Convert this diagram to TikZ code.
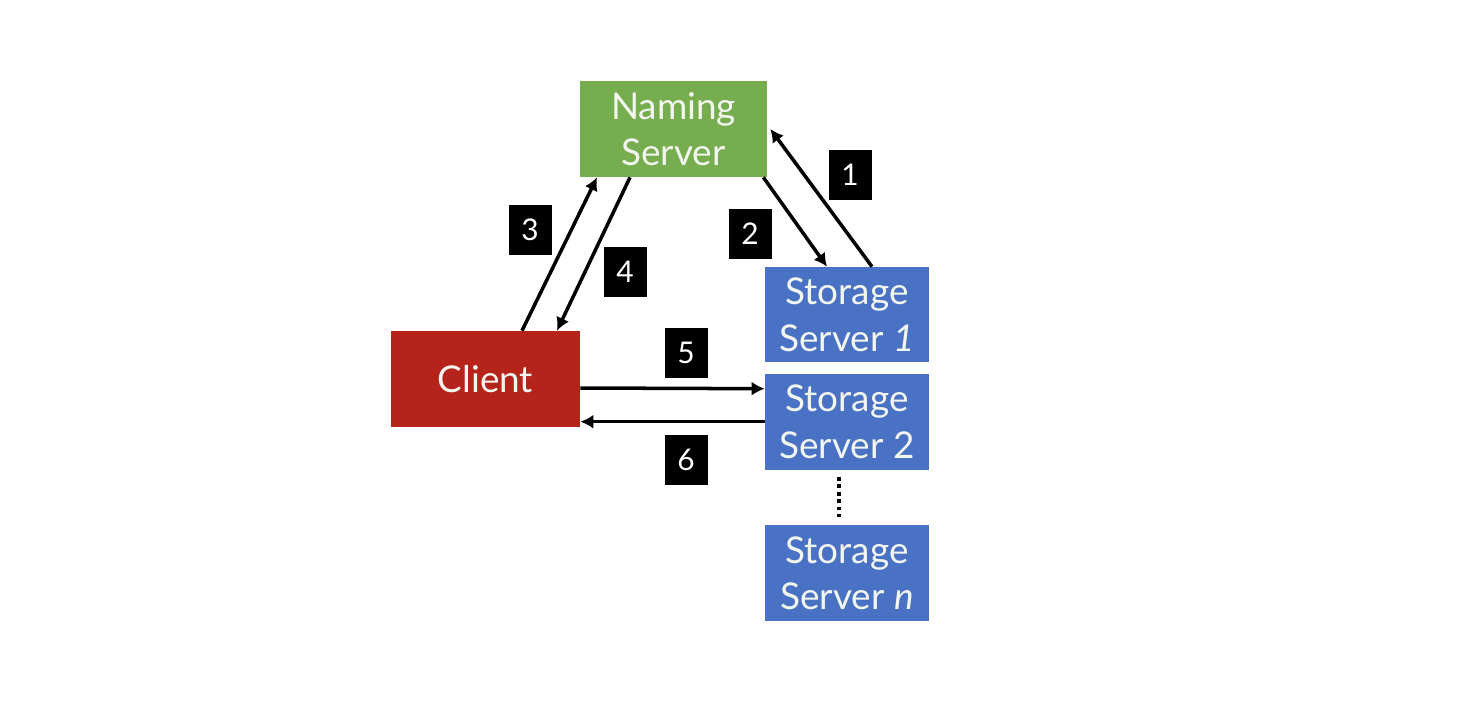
\documentclass[tikz,border=0pt]{standalone}
\usepackage{fontspec}
\setmainfont{Lato}
\usepackage{tikz}
\usetikzlibrary{positioning, arrows.meta}

\definecolor{namegreen}{HTML}{76AD4F}
\definecolor{clientred}{HTML}{B5231B}
\definecolor{storeblue}{HTML}{4A72C4}
\definecolor{boxtext}{HTML}{F2F6EE}

\begin{document}
\begin{tikzpicture}[
    server/.style={rectangle, minimum width=3.28cm, minimum height=1.92cm,
                   align=center, text=boxtext, font=\fontsize{21}{26.5}\selectfont,
                   inner sep=0pt, fill=storeblue},
    msg/.style={-{Latex[length=2.6mm, width=2.8mm]}, line width=2pt},
    stepnum/.style={fill=black, text=white, minimum width=0.86cm,
                    minimum height=1cm, inner sep=0pt,
                    font=\fontsize{17}{20}\selectfont}
]
\useasboundingbox (0,0) rectangle (29.56,-14.2);

\node[server, fill=namegreen, minimum width=3.74cm] (naming) at (13.47,-2.58) {Naming\\Server};
\node[server, fill=clientred, minimum width=3.78cm] (client) at (9.71,-7.58) {Client};
\node[server, minimum height=1.9cm] (ss1) at (16.94,-6.29) {Storage\\Server \textit{1}};
\node[server, below=0.22cm of ss1] (ss2) {Storage\\Server 2};
\node[server, below=1.1cm of ss2] (ssn) {Storage\\Server \textit{n}};

\draw[msg] ([xshift=0.5cm]ss1.north) -- ([xshift=0.06cm]naming.east);
\draw[msg] ([xshift=-0.08cm]naming.south east) -- ([xshift=-0.4cm]ss1.north);
\draw[msg] ([xshift=0.73cm]client.north) -- ([xshift=-1.53cm]naming.south);
\draw[msg] ([xshift=-0.87cm]naming.south) -- ([xshift=1.43cm]client.north);
\draw[msg] ([yshift=-0.18cm]client.east) -- ([yshift=0.66cm]ss2.west);
\draw[msg] (ss2.west) -- (ss2.west -| client.east);
\draw[line width=2.2pt, dotted] ([xshift=-0.16cm, yshift=-0.14cm]ss2.south)
    -- ([xshift=-0.16cm, yshift=0.16cm]ssn.north);

\node[stepnum] (n1) at (17.0,-3.5) {1};
\node[stepnum] (n2) at (15.0,-4.68) {2};
\node[stepnum] (n3) at (10.6,-4.6) {3};
\node[stepnum] (n4) at (12.5,-5.44) {4};
\node[stepnum] (n5) at (13.72,-7.06) {5};
\node[stepnum] (n6) at (13.72,-9.2) {6};
\end{tikzpicture}
\end{document}
